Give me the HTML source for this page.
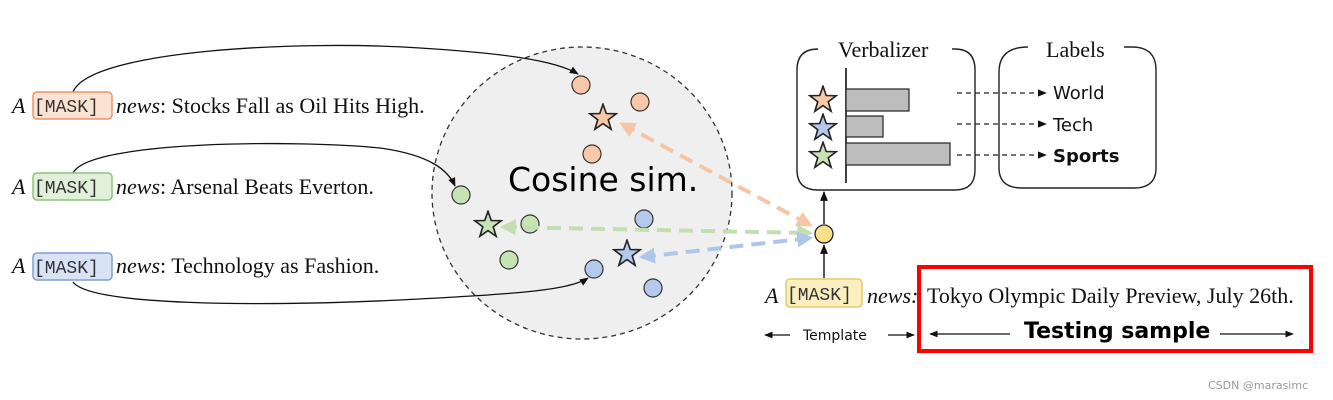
<!DOCTYPE html>
<html><head><meta charset="utf-8"><style>
html,body{margin:0;padding:0;background:#fff;}
svg{display:block;}
.s{font-family:"Liberation Serif",serif;font-size:22px;fill:#111;}
.m{font-family:"Liberation Mono",monospace;font-size:18px;fill:#333;}
.a{font-family:"DejaVu Sans","Liberation Sans",sans-serif;}
</style></head><body>
<svg width="1333" height="400" viewBox="0 0 1333 400" xmlns="http://www.w3.org/2000/svg">
<defs>
<marker id="ah" viewBox="0 0 10 10" refX="9" refY="5" markerWidth="7" markerHeight="7" orient="auto-start-reverse"><path d="M0,1 L10,5 L0,9 z" fill="#111"/></marker>
<marker id="ao" viewBox="0 0 10 10" refX="8" refY="5" markerWidth="4" markerHeight="4" orient="auto-start-reverse"><path d="M0,0 L10,5 L0,10 z" fill="#f5c6a5"/></marker>
<marker id="ag" viewBox="0 0 10 10" refX="8" refY="5" markerWidth="4" markerHeight="4" orient="auto-start-reverse"><path d="M0,0 L10,5 L0,10 z" fill="#c3deb0"/></marker>
<marker id="ab" viewBox="0 0 10 10" refX="8" refY="5" markerWidth="4" markerHeight="4" orient="auto-start-reverse"><path d="M0,0 L10,5 L0,10 z" fill="#aec6ea"/></marker>
<symbol id="star" viewBox="-12 -12 24 24"><path d="M0,-11 L2.6,-3.6 L10.5,-3.4 L4.2,1.4 L6.5,9 L0,4.5 L-6.5,9 L-4.2,1.4 L-10.5,-3.4 L-2.6,-3.6 Z" stroke="#222" stroke-width="1.3"/></symbol>
</defs>

<ellipse cx="582" cy="193" rx="150" ry="146" fill="#efefef" stroke="#333" stroke-width="1.3" stroke-dasharray="5,4"/>
<text x="508" y="191" class="a" font-size="33" fill="#000">Cosine sim.</text>

<path d="M73,92 C90,50 300,40 420,48 C500,53 555,60 578,74" fill="none" stroke="#111" stroke-width="1.3" marker-end="url(#ah)"/>
<path d="M73,173 C90,140 300,140 380,148 C430,155 448,170 455,186" fill="none" stroke="#111" stroke-width="1.3" marker-end="url(#ah)"/>
<path d="M73,282 C90,305 250,307 400,300 C520,294 570,290 588,278" fill="none" stroke="#111" stroke-width="1.3" marker-end="url(#ah)"/>

<g>
<text x="12" y="113" class="s" font-style="italic">A</text>
<rect x="33" y="92" width="79" height="27" rx="4" fill="#fbe2d3" stroke="#e8966a" stroke-width="1.5"/>
<text x="34" y="112" class="m">[MASK]</text>
<text x="116" y="113" class="s"><tspan font-style="italic">news</tspan>: Stocks Fall as Oil Hits High.</text>

<text x="12" y="194" class="s" font-style="italic">A</text>
<rect x="33" y="173" width="79" height="27" rx="4" fill="#e1f0d8" stroke="#8fc27a" stroke-width="1.5"/>
<text x="34" y="193" class="m">[MASK]</text>
<text x="116" y="194" class="s"><tspan font-style="italic">news</tspan>: Arsenal Beats Everton.</text>

<text x="12" y="273" class="s" font-style="italic">A</text>
<rect x="33" y="253" width="79" height="27" rx="4" fill="#d8e3f5" stroke="#7e9fd4" stroke-width="1.5"/>
<text x="34" y="273" class="m">[MASK]</text>
<text x="116" y="273" class="s"><tspan font-style="italic">news</tspan>: Technology as Fashion.</text>
</g>

<g stroke="#333" stroke-width="1.2">
<circle cx="581" cy="85" r="9" fill="#f8c8a8"/>
<circle cx="640" cy="102" r="9" fill="#f8c8a8"/>
<circle cx="592" cy="154" r="9" fill="#f8c8a8"/>
<circle cx="461" cy="195" r="9" fill="#c7e3b4"/>
<circle cx="530" cy="224" r="9" fill="#c7e3b4"/>
<circle cx="509" cy="260" r="9" fill="#c7e3b4"/>
<circle cx="644" cy="219" r="9" fill="#b5c9ec"/>
<circle cx="594" cy="269" r="9" fill="#b5c9ec"/>
<circle cx="653" cy="288" r="9" fill="#b5c9ec"/>
</g>
<use href="#star" x="588" y="103" width="30" height="30" fill="#f8c8a8"/>
<use href="#star" x="473" y="210" width="30" height="30" fill="#c7e3b4"/>
<use href="#star" x="612" y="239" width="30" height="30" fill="#b5c9ec"/>

<line x1="622" y1="124" x2="810" y2="225" stroke="#f5c6a5" stroke-width="4" stroke-dasharray="14,8" marker-start="url(#ao)" marker-end="url(#ao)"/>
<line x1="503" y1="227" x2="810" y2="233" stroke="#c3deb0" stroke-width="4" stroke-dasharray="14,8" marker-start="url(#ag)" marker-end="url(#ag)"/>
<line x1="642" y1="257" x2="810" y2="238" stroke="#aec6ea" stroke-width="4" stroke-dasharray="14,8" marker-start="url(#ab)" marker-end="url(#ab)"/>

<line x1="824" y1="278" x2="824" y2="245" stroke="#111" stroke-width="1.4" marker-end="url(#ah)"/>
<line x1="824" y1="224" x2="824" y2="192" stroke="#111" stroke-width="1.4" marker-end="url(#ah)"/>
<circle cx="824" cy="234" r="9" fill="#fbe08a" stroke="#222" stroke-width="1.3"/>

<path d="M818,49 Q797,49 797,70 L797,170 Q797,190 818,190 L955,190 Q975,190 975,170 L975,70 Q975,49 955,49 L952,49" fill="none" stroke="#222" stroke-width="1.4"/>
<text x="838" y="57" class="s" font-size="20">Verbalizer</text>
<line x1="846" y1="68" x2="846" y2="183" stroke="#111" stroke-width="1.6"/>
<rect x="846" y="89" width="63" height="22" fill="#bdbdbd" stroke="#222" stroke-width="1.2"/>
<rect x="846" y="116" width="37" height="21" fill="#bdbdbd" stroke="#222" stroke-width="1.2"/>
<rect x="846" y="143" width="104" height="22" fill="#bdbdbd" stroke="#222" stroke-width="1.2"/>
<use href="#star" x="808" y="85" width="30" height="30" fill="#f8c8a8"/>
<use href="#star" x="808" y="113" width="30" height="30" fill="#b5c9ec"/>
<use href="#star" x="808" y="141" width="30" height="30" fill="#c7e3b4"/>

<path d="M1028,47 Q999,47 999,72 L999,168 Q999,188 1022,188 L1134,188 Q1156,188 1156,168 L1156,70 Q1156,47 1132,47 L1124,47" fill="none" stroke="#222" stroke-width="1.4"/>
<text x="1046" y="57" class="s" font-size="20">Labels</text>
<g stroke="#222" stroke-width="1.3" stroke-dasharray="5,4">
<line x1="957" y1="93" x2="1046" y2="93" marker-end="url(#ah)"/>
<line x1="957" y1="124" x2="1046" y2="124" marker-end="url(#ah)"/>
<line x1="957" y1="155" x2="1046" y2="155" marker-end="url(#ah)"/>
</g>
<text x="1053" y="99" class="a" font-size="18" fill="#111">World</text>
<text x="1053" y="131" class="a" font-size="18" fill="#111">Tech</text>
<text x="1053" y="162" class="a" font-size="18" font-weight="bold" fill="#111">Sports</text>

<text x="765" y="303" class="s" font-style="italic">A</text>
<rect x="786" y="279" width="76" height="28" rx="4" fill="#fbefc2" stroke="#e6c964" stroke-width="1.5"/>
<text x="787" y="300" class="m">[MASK]</text>
<text x="867" y="303" class="s" font-style="italic">news:</text>
<text x="927" y="303" class="s">Tokyo Olympic Daily Preview, July 26th.</text>
<line x1="790" y1="335" x2="765" y2="335" stroke="#111" stroke-width="1.2" marker-end="url(#ah)"/>
<text x="803" y="340" class="a" font-size="14" fill="#111">Template</text>
<line x1="888" y1="335" x2="914" y2="335" stroke="#111" stroke-width="1.2" marker-end="url(#ah)"/>

<rect x="919" y="267" width="392" height="84" fill="none" stroke="#ff0000" stroke-width="4"/>
<line x1="1010" y1="334" x2="930" y2="334" stroke="#111" stroke-width="1.2" marker-end="url(#ah)"/>
<text x="1024" y="338" class="a" font-size="22" font-weight="bold" fill="#000">Testing sample</text>
<line x1="1220" y1="334" x2="1293" y2="334" stroke="#111" stroke-width="1.2" marker-end="url(#ah)"/>

<text x="1208" y="389" class="a" font-size="11" fill="#999">CSDN @marasimc</text>
</svg>
</body></html>
